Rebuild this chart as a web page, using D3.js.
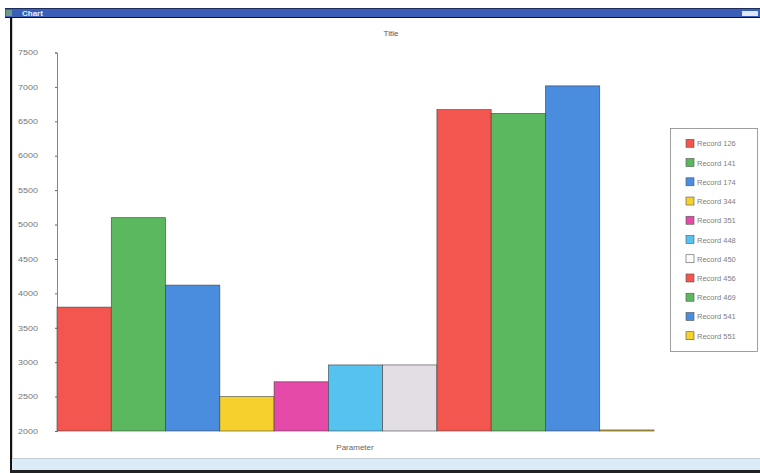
<!DOCTYPE html>
<html><head><meta charset="utf-8">
<script src="https://cdn.jsdelivr.net/npm/d3@7"></script>
<style>html,body{margin:0;padding:0;background:#fff;}svg{display:block;}</style>
</head><body>
<svg id="c" width="760" height="473"></svg>
<script>
const records = ["Record 126","Record 141","Record 174","Record 344","Record 351","Record 448","Record 450","Record 456","Record 469","Record 541","Record 551"];
const values = [3800, 5100, 4120, 2500, 2715, 2960, 2960, 6670, 6615, 7015, 2015];
const yTicks = [2000,2500,3000,3500,4000,4500,5000,5500,6000,6500,7000,7500];
const palette = ["#f2564f","#5cb85e","#4a8cde","#f6d02c","#e54aa8","#56c2f0","#e2dee4","#f2564f","#5cb85e","#4a8cde","#f6d02c"];
const titleText = "Title", xLabel = "Parameter", windowTitle = "Chart";

const svg = d3.select("#c");
const font = "Liberation Sans, Arial, sans-serif";

// window frame
svg.append("rect").attr("x",5).attr("y",8).attr("width",755).attr("height",10).attr("fill","#3a5fb8");
svg.append("line").attr("x1",5).attr("x2",760).attr("y1",8.5).attr("y2",8.5).attr("stroke","#1d2e5a");
svg.append("line").attr("x1",5).attr("x2",760).attr("y1",17.5).attr("y2",17.5).attr("stroke","#111");
svg.append("rect").attr("x",6).attr("y",10).attr("width",6).attr("height",6).attr("fill","#6a9a8a");
svg.append("text").attr("x",22).attr("y",16).attr("font-family",font).attr("font-size",8).attr("font-weight","bold").attr("fill","#e8eefa").text(windowTitle);
svg.append("rect").attr("x",742).attr("y",11).attr("width",16).attr("height",5).attr("fill","#dfe8f6");
svg.append("rect").attr("x",10).attr("y",17).attr("width",2.2).attr("height",456).attr("fill","#111");
svg.append("rect").attr("x",12).attr("y",458).attr("width",748).attr("height",12).attr("fill","#dcebf8");
svg.append("line").attr("x1",12).attr("x2",760).attr("y1",458.5).attr("y2",458.5).attr("stroke","#c4ccd6");
svg.append("rect").attr("x",10).attr("y",470).attr("width",750).attr("height",3).attr("fill","#222");

const x = d3.scaleBand().domain(records).range([57, 654]).padding(0);
const y = d3.scaleLinear().domain([2000, 7500]).range([431, 52.5]);

// y axis
const yAxis = d3.axisLeft(y).tickValues(yTicks).tickSize(2).tickPadding(17).tickFormat(d3.format("d"));
const ga = svg.append("g").attr("transform","translate(57,0)").call(yAxis);
ga.select(".domain").attr("stroke","#666").attr("stroke-width",0.8);
ga.selectAll(".tick line").attr("stroke","#666");
ga.selectAll(".tick text").attr("font-family",font).attr("font-size",7).attr("fill","#777").attr("textLength",20).attr("lengthAdjust","spacingAndGlyphs");

// bars
svg.append("g").selectAll("rect").data(values).join("rect")
  .attr("x",(d,i)=>x(records[i]))
  .attr("y",d=>y(d))
  .attr("width",x.bandwidth())
  .attr("height",d=>y(2000)-y(d))
  .attr("fill",(d,i)=>palette[i])
  .attr("stroke","#3a3a3a").attr("stroke-width",0.7).attr("stroke-opacity",0.8);

// titles
svg.append("text").attr("x",391).attr("y",36).attr("text-anchor","middle").attr("font-family",font).attr("font-size",8).attr("fill","#555").text(titleText);
svg.append("text").attr("x",355).attr("y",450).attr("text-anchor","middle").attr("font-family",font).attr("font-size",8).attr("fill","#666").text(xLabel);

// legend
const lg = svg.append("g");
lg.append("rect").attr("x",670.5).attr("y",128.5).attr("width",87).attr("height",223).attr("fill","#fff").attr("stroke","#888").attr("stroke-width",0.8);
const items = lg.selectAll("g.it").data(records).join("g").attr("class","it")
  .attr("transform",(d,i)=>`translate(686,${143.3 + i*19.24})`);
items.append("rect").attr("x",0).attr("y",-4).attr("width",8).attr("height",8)
  .attr("fill",(d,i)=> i===6 ? "#fff" : palette[i]).attr("stroke","#555").attr("stroke-width",0.6);
items.append("text").attr("x",11).attr("y",3).attr("font-family",font).attr("font-size",7.5).attr("fill","#808080").text(d=>d);
</script>
</body></html>
